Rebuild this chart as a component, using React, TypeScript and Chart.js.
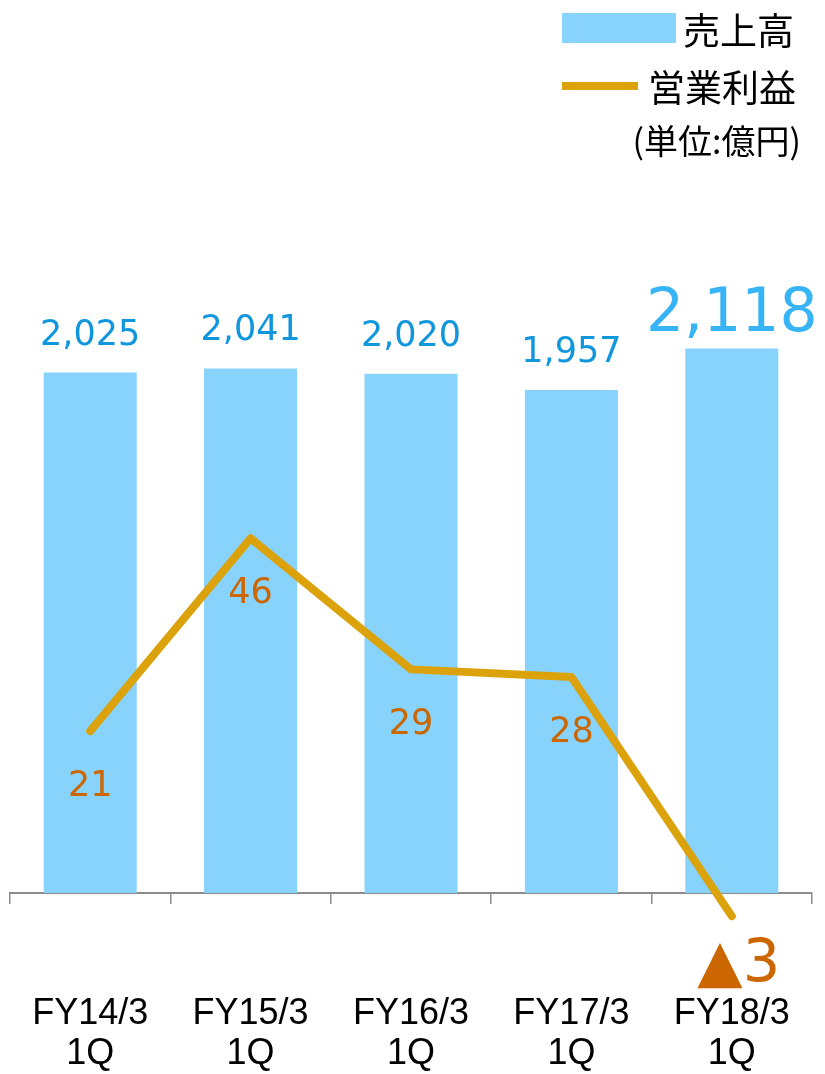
import React, { useEffect, useRef } from "react";
import { Chart, registerables } from "chart.js";

Chart.register(...registerables);

const categories: string[][] = [
  ["FY14/3", "1Q"],
  ["FY15/3", "1Q"],
  ["FY16/3", "1Q"],
  ["FY17/3", "1Q"],
  ["FY18/3", "1Q"],
];
const sales: number[] = [2025, 2041, 2020, 1957, 2118];
const operatingProfit: number[] = [21, 46, 29, 28, -3];
const salesLabel = "売上高";
const profitLabel = "営業利益";
const unitLabel = "(単位:億円)";

const BAR_COLOR = "#87d3fc";
const LINE_COLOR = "#dba20c";
const BAR_LABEL_COLOR = "#0f96dc";
const BAR_LABEL_HIGHLIGHT = "#36b4f6";
const LINE_LABEL_COLOR = "#cc6600";

const fmt = (v: number) => v.toLocaleString("en-US");

const labelPlugin = {
  id: "valueLabels",
  afterDatasetsDraw(chart: any) {
    const ctx = chart.ctx;
    ctx.save();
    const barMeta = chart.getDatasetMeta(0);
    barMeta.data.forEach((el: any, i: number) => {
      const last = i === sales.length - 1;
      ctx.font = last ? "60px 'DejaVu Sans'" : "35px 'DejaVu Sans'";
      ctx.fillStyle = last ? BAR_LABEL_HIGHLIGHT : BAR_LABEL_COLOR;
      ctx.textAlign = "center";
      ctx.textBaseline = "alphabetic";
      ctx.fillText(fmt(sales[i]), el.x, el.y - (last ? 18 : 28));
    });
    const lineMeta = chart.getDatasetMeta(1);
    lineMeta.data.forEach((el: any, i: number) => {
      const v = operatingProfit[i];
      const neg = v < 0;
      ctx.font = neg ? "59px 'DejaVu Sans'" : "35px 'DejaVu Sans'";
      ctx.fillStyle = LINE_LABEL_COLOR;
      ctx.textAlign = "center";
      ctx.textBaseline = "alphabetic";
      const text = neg ? "▲" + Math.abs(v) : String(v);
      ctx.fillText(text, el.x + (neg ? 7 : 0), el.y + 65);
    });
    ctx.restore();
  },
};

export default function App() {
  const ref = useRef<HTMLCanvasElement | null>(null);
  useEffect(() => {
    if (!ref.current) return;
    const chart = new Chart(ref.current, {
      type: "bar",
      data: {
        labels: categories,
        datasets: [
          {
            type: "bar",
            label: salesLabel,
            data: sales,
            backgroundColor: BAR_COLOR,
            yAxisID: "y",
            categoryPercentage: 1,
            barPercentage: 0.58,
            order: 2,
          },
          {
            type: "line",
            label: profitLabel,
            data: operatingProfit,
            borderColor: LINE_COLOR,
            backgroundColor: LINE_COLOR,
            borderWidth: 8,
            pointRadius: 0,
            borderCapStyle: "round",
            borderJoinStyle: "round",
            yAxisID: "y2",
            clip: false,
            order: 1,
          } as any,
        ],
      },
      options: {
        animation: false,
        responsive: false,
        maintainAspectRatio: false,
        layout: { padding: { left: 10, right: 13, top: 199, bottom: 0 } },
        plugins: {
          legend: { display: false },
          tooltip: { enabled: false },
        },
        scales: {
          x: {
            afterFit: (scale: any) => {
              scale.paddingLeft = 0;
              scale.paddingRight = 0;
              scale.height = 181;
            },
            grid: {
              offset: true,
              drawOnChartArea: false,
              drawTicks: true,
              tickLength: 11,
              color: "#8c8c8c",
              lineWidth: 1.5,
            },
            border: { display: true, color: "#8c8c8c", width: 2 },
            ticks: {
              color: "#000000",
              padding: 90,
              font: { family: "'Liberation Sans', Arial, sans-serif", size: 36, lineHeight: 40 / 36 },
              maxRotation: 0,
              autoSkip: false,
            },
          },
          y: { display: false, min: 0, max: 2700 },
          y2: { display: false, min: 0, max: 90 },
        },
      },
      plugins: [labelPlugin],
    });
    return () => chart.destroy();
  }, []);

  const textBase: React.CSSProperties = {
    position: "absolute",
    fontFamily: "'Noto Sans CJK JP', sans-serif",
    color: "#000",
    whiteSpace: "nowrap",
    lineHeight: "44px",
  };

  return (
    <div style={{ position: "absolute", left: 0, top: 0, width: 825, height: 1074, background: "#fff" }}>
      <canvas ref={ref} width={825} height={1074} style={{ position: "absolute", left: 0, top: 0 }} />
      <div style={{ position: "absolute", left: 562, top: 13, width: 114, height: 30, background: BAR_COLOR }} />
      <div style={{ ...textBase, left: 683, top: 7, fontSize: 37 }}>{salesLabel}</div>
      <div style={{ position: "absolute", left: 562, top: 82, width: 76, height: 8, background: LINE_COLOR }} />
      <div style={{ ...textBase, left: 648, top: 64, fontSize: 37 }}>{profitLabel}</div>
      <div style={{ ...textBase, right: 24, top: 118, fontSize: 34 }}>{unitLabel}</div>
    </div>
  );
}
